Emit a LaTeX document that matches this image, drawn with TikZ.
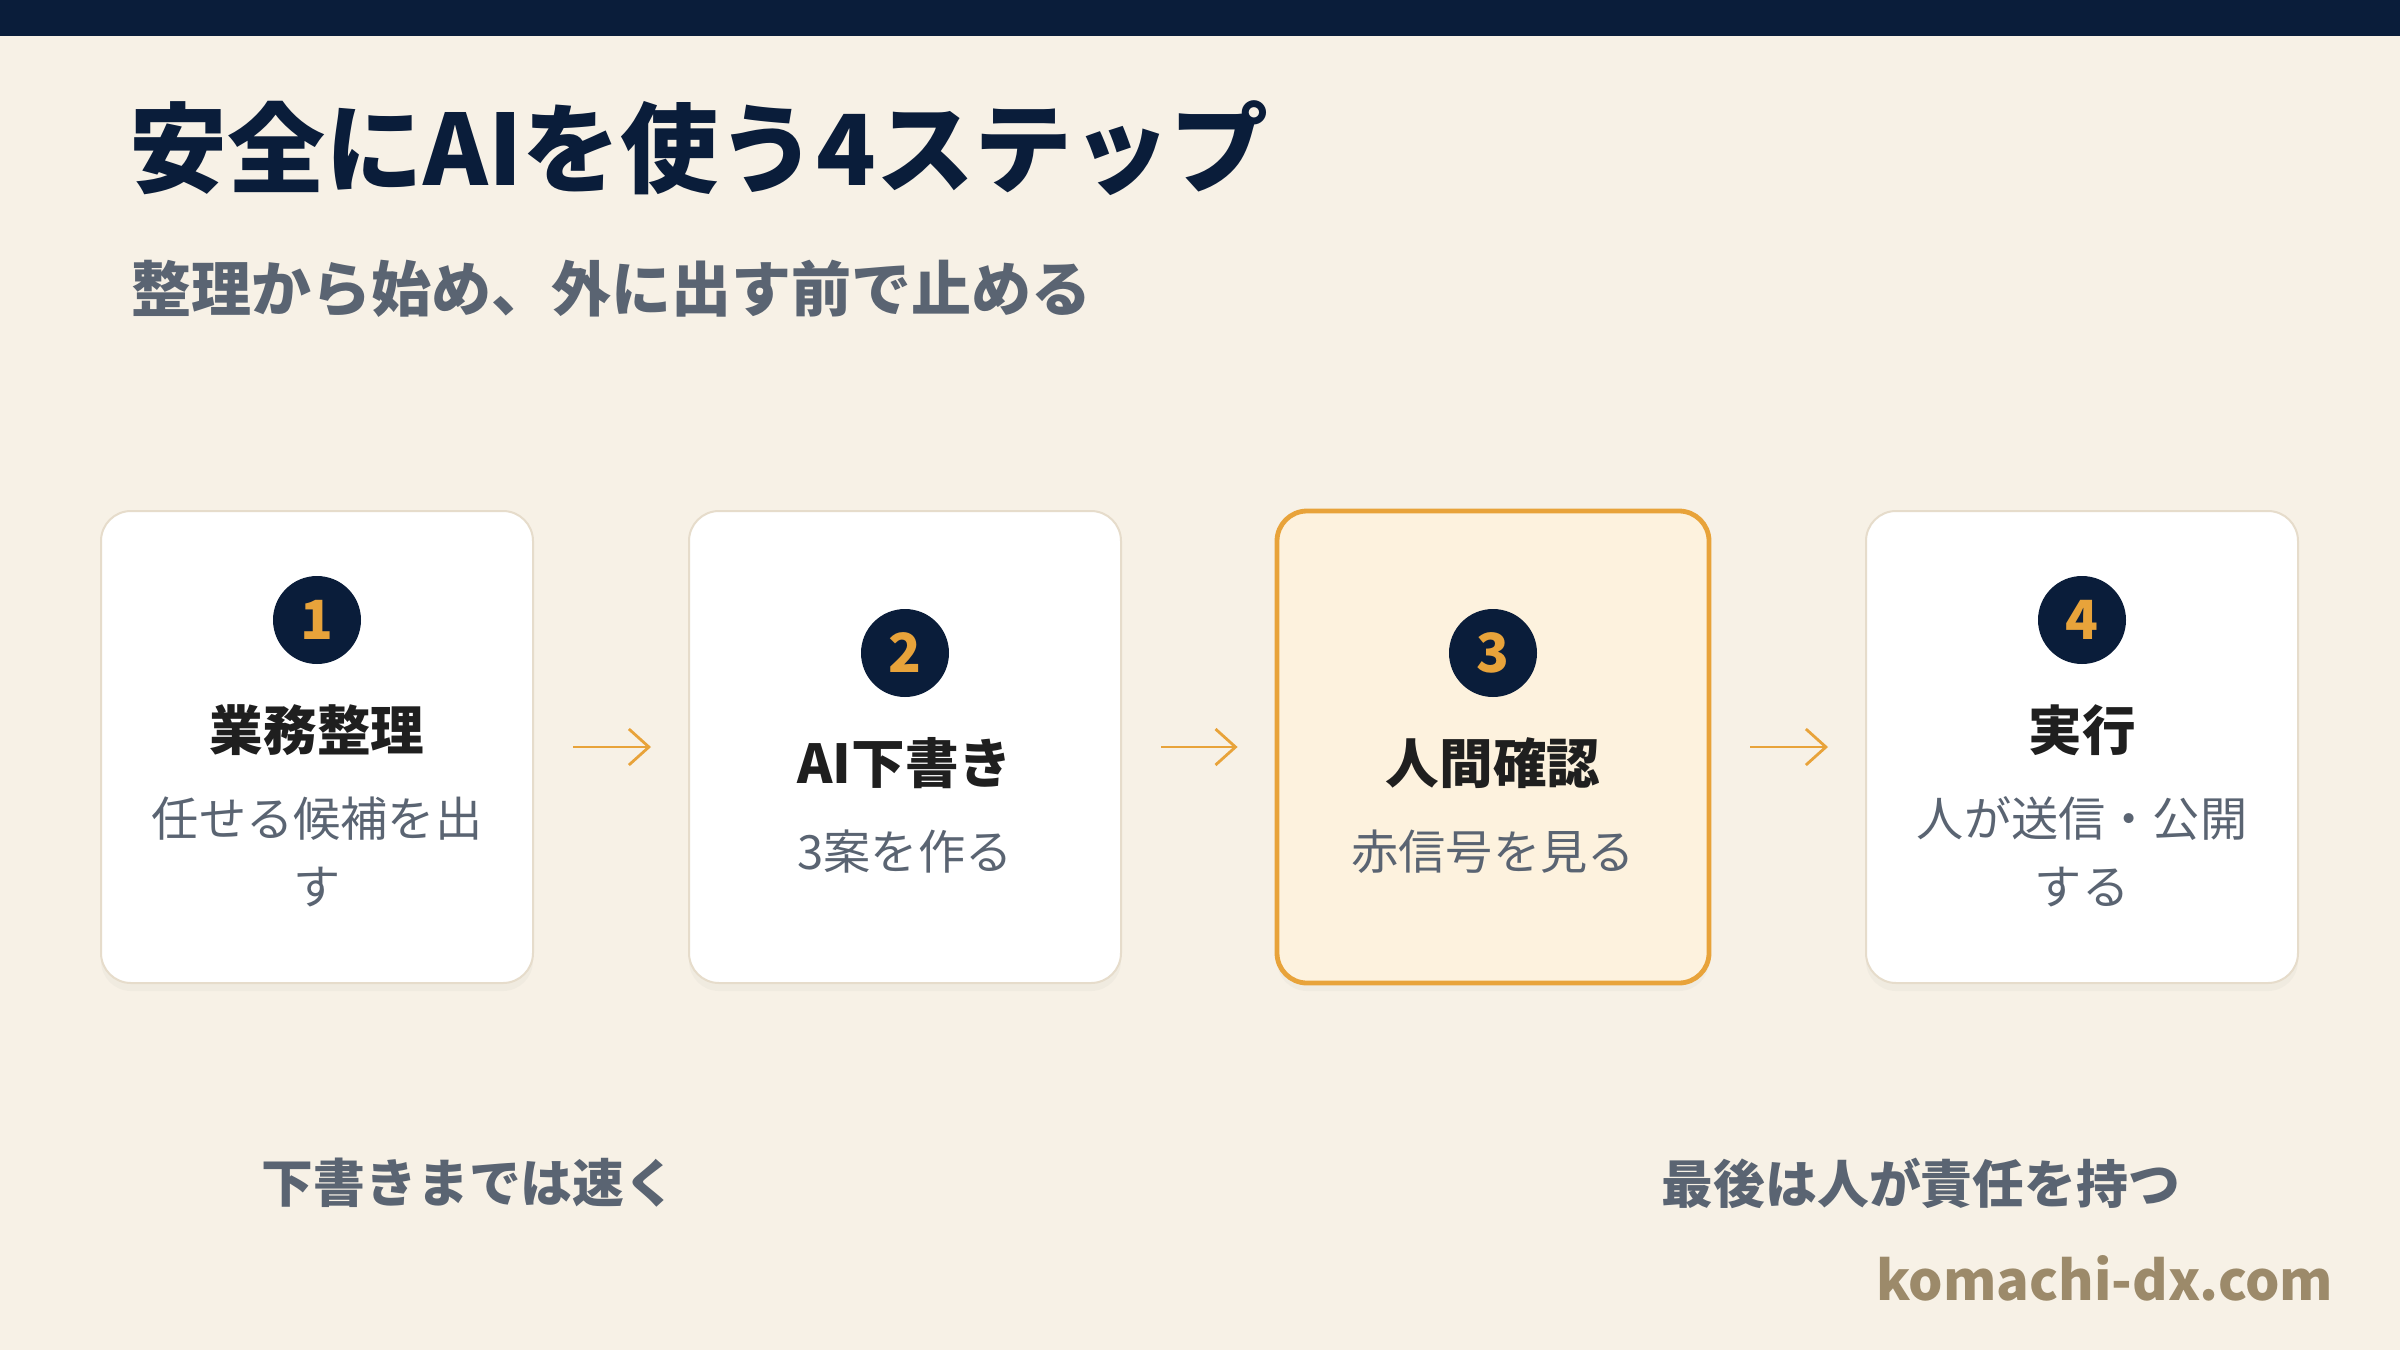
\documentclass[tikz,border=0pt]{standalone}
\usepackage{fontspec}
\setmainfont{Noto Sans CJK JP}
\usetikzlibrary{arrows.meta,shadows}
\definecolor{navy}{HTML}{0A1D3A}
\definecolor{paper}{HTML}{F7F1E6}
\definecolor{cardline}{HTML}{E6DCCB}
\definecolor{accent}{HTML}{E8A33A}
\definecolor{hilite}{HTML}{FDF2DE}
\definecolor{ink}{HTML}{1F1F1F}
\definecolor{muted}{HTML}{5A6472}
\definecolor{brand}{HTML}{9C8A6A}
\tikzset{
  card/.style={draw=cardline,line width=0.5pt,fill=white,rounded corners=7.5pt,
    minimum width=108pt,minimum height=118pt,
    drop shadow={opacity=0.05,shadow xshift=0pt,shadow yshift=-2pt}},
  cardon/.style={card,draw=accent,line width=1.2pt,fill=hilite},
  badge/.style={circle,fill=navy,text=accent,minimum size=22pt,inner sep=0pt,
    font=\fontsize{13.5}{14}\selectfont\bfseries},
  heading/.style={text=ink,inner sep=0pt,font=\fontsize{13.4}{15}\selectfont\bfseries},
  desc/.style={text=muted,inner sep=0pt,align=center,font=\fontsize{11.8}{17}\selectfont},
  note/.style={anchor=west,inner sep=0pt,text=muted,font=\fontsize{12.95}{14}\selectfont\bfseries},
  flow/.style={draw=accent,line width=0.7pt,-{Straight Barb[length=5pt,width=9pt]},
    shorten <=9.75pt,shorten >=9.25pt}
}
\begin{document}
\begin{tikzpicture}[x=0.25pt,y=-0.25pt]
\useasboundingbox (0,0) rectangle (2400,1350);
% background and top bar:
\fill[paper] (0,0) rectangle (2400,1350);
\fill[navy] (0,0) rectangle (2400,36);
% title block:
\node[anchor=west,inner sep=0pt,text=navy,font=\fontsize{24.5}{26}\selectfont\bfseries] (title) at (129,148) {安全にAIを使う4ステップ};
\node[anchor=west,inner sep=0pt,text=muted,font=\fontsize{15}{17}\selectfont\bfseries] (subtitle) at (131,289) {整理から始め、外に出す前で止める};
% cards:
\node[card] (c1) at (317,747) {};
\node[card] (c2) at (905,747) {};
\node[cardon] (c3) at (1493,747) {};
\node[card] (c4) at (2082,747) {};
% card 1:
\node[badge] (n1) at (317,620) {1};
\node[heading] (h1) at (317,730) {業務整理};
\node[desc] (d1) at (317,852) {任せる候補を出\\す};
% card 2:
\node[badge] (n2) at (905,653) {2};
\node[heading] (h2) at (905,763) {AI下書き};
\node[desc] (d2) at (905,852) {3案を作る};
% card 3:
\node[badge] (n3) at (1493,653) {3};
\node[heading] (h3) at (1493,763) {人間確認};
\node[desc] (d3) at (1493,852) {赤信号を見る};
% card 4:
\node[badge] (n4) at (2082,620) {4};
\node[heading] (h4) at (2082,730) {実行};
\node[desc] (d4) at (2082,852) {人が送信・公開\\する};
% arrows:
\draw[flow] (c1) -- (c2);
\draw[flow] (c2) -- (c3);
\draw[flow] (c3) -- (c4);
% footer notes:
\node[note] (fast) at (261,1183) {下書きまでは速く};
\node[note] (owner) at (1661,1183) {最後は人が責任を持つ};
\node[anchor=east,inner sep=0pt,text=brand,font=\fontsize{13.55}{16}\selectfont\bfseries] (site) at (2334,1278) {komachi-dx.com};
\end{tikzpicture}
\end{document}
